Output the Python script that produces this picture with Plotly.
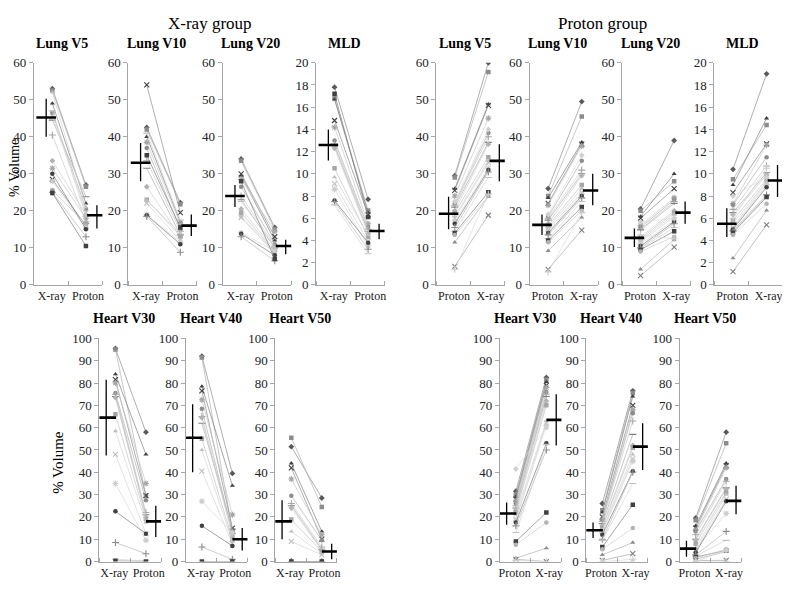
import plotly.graph_objects as go

# the page has an 8 px body margin on the top/left; the figure fills the rest of the 790x590 window
PAGE_W, PAGE_H, OFF = 790, 590, 8
W, H = PAGE_W - OFF, PAGE_H - OFF
FONT = "Liberation Serif"

# ---------------- X-ray group (17 patients): value on X-ray plan, value on Proton plan
XG_LUNG_V5_XRAY = [53, 52.5, 49, 28.5, 31.5, 46.5, 40.5, 44.5, 33.5, 25.5, 52, 45.5, 28, 30, 25, 47, 24.8]
XG_LUNG_V5_PROTON = [27, 26.5, 22, 16, 18, 20.5, 17, 23.8, 19, 16.5, 21, 19.5, 15.5, 15, 13, 18.5, 10.5]
XG_LUNG_V10_XRAY = [42.5, 42, 40, 54, 38.5, 37, 33.5, 31.5, 26.5, 23, 22.8, 22, 19, 18.8, 18.5, 41, 35]
XG_LUNG_V10_PROTON = [22.2, 21.8, 17, 19.5, 16.5, 15, 14.5, 13.5, 13, 13.2, 14, 12, 11.5, 11, 8.8, 17.5, 15.5]
XG_LUNG_V20_XRAY = [34, 33.5, 29.5, 30, 28.5, 26.5, 24, 23, 20.5, 19.5, 18.5, 18.2, 14, 13.8, 13, 22.5, 28]
XG_LUNG_V20_PROTON = [15.5, 15, 12, 13, 14.5, 11, 10.5, 10, 9.5, 9, 8.8, 8.5, 9.2, 8, 6.5, 10.2, 7]
XG_MLD_XRAY = [17.8, 16.8, 16.7, 14.8, 14.2, 13, 12.7, 12.5, 12.3, 10.5, 9.7, 9.1, 8.6, 7.6, 7.5, 7.2, 17.2]
XG_MLD_PROTON = [7.7, 6.7, 6.5, 6.3, 5.5, 5.2, 5, 4.8, 4.6, 4.3, 4.5, 3.9, 3.5, 3.8, 3.2, 2.8, 6.1]
XG_HEART_V30_XRAY = [95.5, 95, 84, 81.5, 80, 75.5, 75, 74, 73.5, 66, 58.5, 48, 35, 22.5, 8.5, 1, 0.3]
XG_HEART_V30_PROTON = [58, 29.5, 48, 29.5, 35, 27.5, 22, 21, 20, 19, 17.5, 12.5, 9.5, 12.5, 3.5, 0.3, 0]
XG_HEART_V40_XRAY = [92, 91.5, 78.5, 76.5, 72.5, 68.5, 65, 62, 64.5, 55, 50, 40.5, 27, 16, 6.5, 0, 0]
XG_HEART_V40_PROTON = [39.5, 14, 34, 15, 21, 13, 12.5, 14.5, 11.5, 10, 9, 8, 13, 7, 1, 0, 0]
XG_HEART_V50_XRAY = [51.5, 55.5, 44, 42, 37, 29.5, 26, 25, 24, 18.8, 13.5, 9, 0, 0, 0, 0, 0]
XG_HEART_V50_PROTON = [28.5, 24.5, 13.5, 10, 12, 9.5, 6.5, 5.5, 5, 4.5, 3.5, 3, 0, 0, 0, 0, 0]

# ---------------- Proton group (22 patients): value on Proton plan, value on X-ray plan
PG_LUNG_V5_PROTON = [29.5, 29, 26, 25.5, 24, 22, 21.5, 21, 20, 19.5, 18.5, 18, 17, 16.5, 15.5, 14.5, 14, 13.5, 11.5, 5, 4.2, 22.5]
PG_LUNG_V5_XRAY = [60, 57.5, 48.8, 48.5, 45, 41, 40, 38.5, 38, 34.5, 33.5, 33, 31.5, 31, 30.5, 29, 25, 24, 23.8, 18.8, 24.5, 42]
PG_LUNG_V10_PROTON = [26, 24, 23.5, 22, 21.5, 18.5, 18, 17.5, 16.5, 16, 15.5, 15, 14.5, 14, 13.5, 12.5, 12, 11.5, 9.2, 4.2, 3.5, 19]
PG_LUNG_V10_XRAY = [49.5, 45.5, 38.5, 38, 37.5, 33.5, 31, 30, 29.5, 27, 26, 25, 24.5, 24, 23.5, 22.5, 21, 20, 18.2, 14.8, 19.5, 35]
PG_LUNG_V20_PROTON = [20.5, 20, 18.5, 18, 16, 15.5, 15, 14.8, 13, 12.5, 12, 11.5, 11, 10.5, 10, 9.8, 9.5, 9, 4.2, 2.5, 13.5, 17]
PG_LUNG_V20_XRAY = [39, 28, 30, 26, 23.5, 23, 22.5, 22, 20, 19.5, 19, 18.5, 17.5, 17, 16.5, 15.5, 14.5, 13, 12.2, 10.2, 12.5, 18]
PG_MLD_PROTON = [10.4, 9.5, 9, 8.3, 7.3, 7.2, 6.8, 6.5, 6.3, 5.8, 5.5, 5.2, 5.1, 5, 4.9, 4.8, 4.7, 4.5, 2.4, 1.2, 6, 8]
PG_MLD_XRAY = [19, 14.4, 15, 12.7, 12.6, 11.5, 10.7, 10.1, 9.9, 9.5, 9.3, 9.2, 9, 8.8, 8.1, 8, 7.9, 7.3, 6.7, 5.4, 10.5, 9.7]
PG_HEART_V30_PROTON = [31.5, 30, 29, 28, 27, 26, 25, 24, 23, 22, 21, 19, 18.5, 17.5, 16, 13, 9, 7.5, 1.5, 1, 0.5, 41.5]
PG_HEART_V30_XRAY = [82.5, 81.5, 80.5, 79, 78, 76, 75, 74, 72, 70, 63, 62, 61, 53, 50, 52.5, 22, 17.5, 6, 0, 0, 60]
PG_HEART_V40_PROTON = [26, 23, 22, 20, 19, 18.5, 18, 17, 16, 15, 14, 13.5, 13, 12, 10, 9.5, 6.5, 5.5, 3, 0.5, 0, 0]
PG_HEART_V40_XRAY = [76.5, 75.5, 74, 70, 68, 66.5, 63, 57, 52, 51, 48, 46, 45, 40.5, 40, 35, 25.5, 15, 8.5, 3.5, 1, 0]
PG_HEART_V50_PROTON = [19.5, 18.5, 16, 15, 14, 13.5, 12, 10, 9.5, 8, 6, 5, 5.5, 4, 3, 2.5, 2, 1.5, 1, 0.5, 0, 0]
PG_HEART_V50_XRAY = [58, 53, 44, 43, 42, 37, 36, 33, 32.5, 31, 30, 28, 21.5, 27, 13.5, 9.5, 5, 5.5, 4.5, 0.5, 0, 5]

# ---------------- summary bars: [centre, low, high] per category
SUMMARY = {
    "XG_LUNG_V5": ([45.2, 40, 50.3], [18.8, 15.2, 21.5]),
    "XG_LUNG_V10": ([33, 28, 38.3], [16, 13.2, 19]),
    "XG_LUNG_V20": ([24, 21, 27], [10.5, 8.3, 12.2]),
    "XG_MLD": ([12.6, 11.2, 14], [4.85, 4.1, 5.5]),
    "XG_HEART_V30": ([64.5, 47.5, 81.5], [18, 11, 25]),
    "XG_HEART_V40": ([55.5, 40, 70.5], [10, 5, 15]),
    "XG_HEART_V50": ([18, 10, 27.5], [4.5, 1, 8]),
    "PG_LUNG_V5": ([19.2, 15, 23.8], [33.5, 28, 38]),
    "PG_LUNG_V10": ([16.2, 13.5, 19], [25.5, 21.5, 30]),
    "PG_LUNG_V20": ([12.7, 10.2, 15.2], [19.5, 16.5, 22.5]),
    "PG_MLD": ([5.5, 4.3, 6.9], [9.4, 7.9, 10.8]),
    "PG_HEART_V30": ([21.5, 16.5, 26.5], [63.5, 52, 75]),
    "PG_HEART_V40": ([14, 10.5, 17.5], [51.5, 41, 62]),
    "PG_HEART_V50": ([5.8, 2.2, 9.3], [27.2, 21.2, 34]),
}

XG_CATS = ["X-ray", "Proton"]
PG_CATS = ["Proton", "X-ray"]

# patient marker styles (symbol, marker grey, line grey)
STYLES = [
    ("diamond", "#595959", "#8c8c8c"), ("square", "#8c8c8c", "#b0b0b0"),
    ("triangle-up", "#404040", "#808080"), ("x-thin-open", "#404040", "#8c8c8c"),
    ("asterisk-open", "#a6a6a6", "#c8c8c8"), ("circle", "#8c8c8c", "#b0b0b0"),
    ("cross-thin-open", "#a6a6a6", "#cccccc"), ("line-ew-open", "#7f7f7f", "#b0b0b0"),
    ("diamond", "#b3b3b3", "#d0d0d0"), ("square", "#a6a6a6", "#c4c4c4"),
    ("triangle-up", "#bfbfbf", "#d4d4d4"), ("x-thin-open", "#bfbfbf", "#d4d4d4"),
    ("asterisk-open", "#cccccc", "#dadada"), ("circle", "#404040", "#7a7a7a"),
    ("cross-thin-open", "#8c8c8c", "#b8b8b8"), ("line-ew-open", "#bfbfbf", "#d4d4d4"),
    ("square", "#404040", "#808080"), ("circle", "#b3b3b3", "#cfcfcf"),
    ("triangle-up", "#8c8c8c", "#b0b0b0"), ("x-thin-open", "#7f7f7f", "#a8a8a8"),
    ("cross-thin-open", "#cccccc", "#dadada"), ("diamond", "#d0d0d0", "#dcdcdc"),
]

PANELS = [
    # title, key, cats, v1, v2, ymax, dtick, row, left px (in the 790x590 picture)
    ("Lung V5", "XG_LUNG_V5", XG_CATS, XG_LUNG_V5_XRAY, XG_LUNG_V5_PROTON, 60, 10, 0, 33),
    ("Lung V10", "XG_LUNG_V10", XG_CATS, XG_LUNG_V10_XRAY, XG_LUNG_V10_PROTON, 60, 10, 0, 128),
    ("Lung V20", "XG_LUNG_V20", XG_CATS, XG_LUNG_V20_XRAY, XG_LUNG_V20_PROTON, 60, 10, 0, 223),
    ("MLD", "XG_MLD", XG_CATS, XG_MLD_XRAY, XG_MLD_PROTON, 20, 2, 0, 317),
    ("Lung V5", "PG_LUNG_V5", PG_CATS, PG_LUNG_V5_PROTON, PG_LUNG_V5_XRAY, 60, 10, 0, 438),
    ("Lung V10", "PG_LUNG_V10", PG_CATS, PG_LUNG_V10_PROTON, PG_LUNG_V10_XRAY, 60, 10, 0, 532),
    ("Lung V20", "PG_LUNG_V20", PG_CATS, PG_LUNG_V20_PROTON, PG_LUNG_V20_XRAY, 60, 10, 0, 625),
    ("MLD", "PG_MLD", PG_CATS, PG_MLD_PROTON, PG_MLD_XRAY, 20, 2, 0, 718),
    ("Heart V30", "XG_HEART_V30", XG_CATS, XG_HEART_V30_XRAY, XG_HEART_V30_PROTON, 100, 10, 1, 99),
    ("Heart V40", "XG_HEART_V40", XG_CATS, XG_HEART_V40_XRAY, XG_HEART_V40_PROTON, 100, 10, 1, 186),
    ("Heart V50", "XG_HEART_V50", XG_CATS, XG_HEART_V50_XRAY, XG_HEART_V50_PROTON, 100, 10, 1, 276),
    ("Heart V30", "PG_HEART_V30", PG_CATS, PG_HEART_V30_PROTON, PG_HEART_V30_XRAY, 100, 10, 1, 502),
    ("Heart V40", "PG_HEART_V40", PG_CATS, PG_HEART_V40_PROTON, PG_HEART_V40_XRAY, 100, 10, 1, 589),
    ("Heart V50", "PG_HEART_V50", PG_CATS, PG_HEART_V50_PROTON, PG_HEART_V50_XRAY, 100, 10, 1, 683),
]

# layout geometry (pixels of the 790x590 picture)
ROW_Y = [(57, 285), (340, 569)]          # top, bottom pixel of plot area
ROW_W = [69, 62]                          # plot width
PT_POS = [(0.27, 0.76), (0.26, 0.755)]    # category positions of patient points
MEAN_POS = [(0.18, 0.92), (0.11, 0.915)]  # positions of summary bars
LABEL_POS = [(0.26, 0.79), (0.24, 0.80)]  # category label centres
TITLE_Y = [37, 320]
AXIS_GREY = "#a6a6a6"


def px(x):
    return (x - OFF) / W


def py(y):
    return 1 - (y - OFF) / H


fig = go.Figure()
annotations = []

for i, (title, key, cats, v1, v2, ymax, dtick, row, left) in enumerate(PANELS):
    n = i + 1
    xa = "x" if n == 1 else f"x{n}"
    ya = "y" if n == 1 else f"y{n}"
    p1, p2 = PT_POS[row]
    for j, (a, b) in enumerate(zip(v1, v2)):
        sym, col, lcol = STYLES[j % len(STYLES)]
        is_open = sym.endswith("-open")
        fig.add_trace(go.Scatter(
            x=[p1, p2], y=[a, b], mode="lines+markers", xaxis=xa, yaxis=ya,
            line=dict(color=lcol, width=0.7),
            marker=dict(symbol=sym, size=4.5 if not is_open else 5, color=col,
                        line=dict(color=col, width=1.1 if is_open else 0)),
            showlegend=False, hoverinfo="skip"))
    s1, s2 = SUMMARY[key]
    m1, m2 = MEAN_POS[row]
    for xpos, (c, lo, hi) in ((m1, s1), (m2, s2)):
        fig.add_trace(go.Scatter(
            x=[xpos], y=[c], mode="markers", xaxis=xa, yaxis=ya,
            marker=dict(symbol="line-ew-open", size=14, color="black",
                        line=dict(color="black", width=2.6)),
            error_y=dict(type="data", symmetric=False, array=[hi - c], arrayminus=[c - lo],
                         thickness=1.3, width=0, color="black"),
            showlegend=False, hoverinfo="skip"))

    top, bot = ROW_Y[row]
    w = ROW_W[row]
    xdom = [px(left), min(1.0, px(left + w))]
    ydom = [py(bot), py(top)]
    fig.layout[("xaxis" if n == 1 else f"xaxis{n}")] = dict(
        domain=xdom, anchor=ya, range=[0, 1], showgrid=False, zeroline=False,
        showline=True, linecolor=AXIS_GREY, linewidth=1,
        tickmode="array", tickvals=list(LABEL_POS[row]), ticktext=cats, ticks="", tickangle=0,
        tickfont=dict(family=FONT, size=12, color="#222"),
        minor=dict(tickmode="array", tickvals=[0, 0.5, 1], ticks="inside", ticklen=4,
                   tickcolor=AXIS_GREY, tickwidth=1),
        fixedrange=True)
    fig.layout[("yaxis" if n == 1 else f"yaxis{n}")] = dict(
        domain=ydom, anchor=xa, range=[0, ymax], dtick=dtick, showgrid=False, zeroline=False,
        showline=True, linecolor=AXIS_GREY, linewidth=1, ticks="outside", ticklen=4,
        tickcolor=AXIS_GREY, tickfont=dict(family=FONT, size=13, color="#222"),
        fixedrange=True)
    annotations.append(dict(
        text=f"<b>{title}</b>", x=px(left + w / 2 - 6), y=py(TITLE_Y[row]),
        xref="paper", yref="paper", showarrow=False, xanchor="center", yanchor="middle",
        font=dict(family=FONT, size=14, color="black")))

annotations += [
    dict(text="X-ray group", x=px(210), y=py(17), xref="paper", yref="paper", showarrow=False,
         font=dict(family=FONT, size=17, color="black"), xanchor="center", yanchor="middle"),
    dict(text="Proton group", x=px(605), y=py(17), xref="paper", yref="paper", showarrow=False,
         font=dict(family=FONT, size=17, color="black"), xanchor="center", yanchor="middle"),
    dict(text="% Volume", x=px(14), y=py(165), xref="paper", yref="paper", showarrow=False,
         textangle=-90, font=dict(family=FONT, size=14, color="black"),
         xanchor="center", yanchor="middle"),
    dict(text="% Volume", x=px(57), y=py(467), xref="paper", yref="paper", showarrow=False,
         textangle=-90, font=dict(family=FONT, size=15, color="black"),
         xanchor="center", yanchor="middle"),
]

fig.update_layout(width=W, height=H, margin=dict(l=0, r=0, t=0, b=0),
                  plot_bgcolor="white", paper_bgcolor="white",
                  annotations=annotations, showlegend=False)

fig.write_html("out.html")
